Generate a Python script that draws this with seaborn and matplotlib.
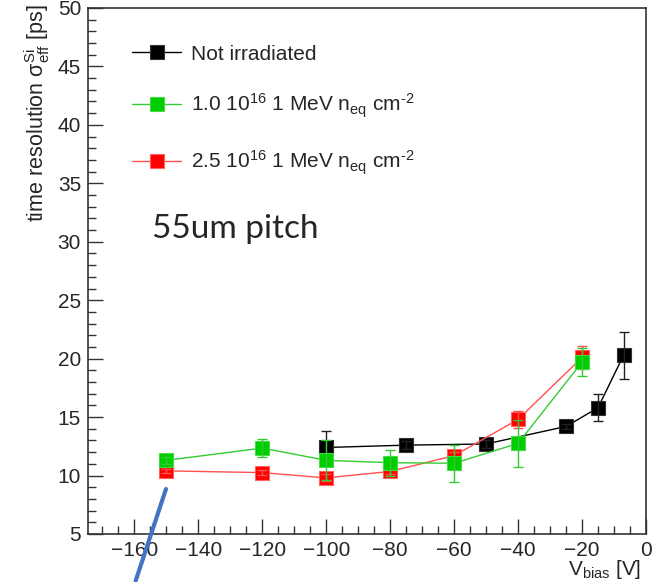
import matplotlib
matplotlib.use("Agg")
import matplotlib.pyplot as plt
from matplotlib.lines import Line2D
from matplotlib.ticker import MultipleLocator
import seaborn as sns
import pandas as pd

# bias voltage [V], time resolution [ps] and uncertainties
volt_black = [-100, -75, -50, -25, -15, -7]
res_black = [12.4, 12.6, 12.7, 14.2, 15.8, 20.3]
err_black = [1.4, 0.35, 0.35, 0.2, 1.15, 2.0]

volt_green = [-150, -120, -100, -80, -60, -40, -20]
res_green = [11.3, 12.35, 11.3, 11.1, 11.05, 12.75, 19.7]
err_green = [0.3, 0.75, 1.7, 1.1, 1.6, 2.0, 1.2]

volt_red = [-150, -120, -100, -80, -60, -40, -20]
res_red = [10.4, 10.25, 9.8, 10.35, 11.7, 14.8, 20.1]
err_red = [0.2, 0.2, 0.3, 0.2, 0.3, 0.7, 1.0]

labels = [
    "Not irradiated",
    r"1.0 10$^{16}$ 1 MeV n$_{\rm eq}$ cm$^{\text{-2}}$",
    r"2.5 10$^{16}$ 1 MeV n$_{\rm eq}$ cm$^{\text{-2}}$",
]

sns.set_style("ticks")
plt.rcParams["font.family"] = ["Liberation Sans", "DejaVu Sans"]
plt.rcParams["mathtext.fontset"] = "custom"
plt.rcParams["mathtext.rm"] = "Liberation Sans"
plt.rcParams["mathtext.it"] = "Liberation Sans:italic"

fig = plt.figure(figsize=(6.61, 5.82), dpi=100)
ax = fig.add_axes([0.1331, 0.0825, 0.8442, 0.9038])

series = [
    (volt_black, res_black, err_black, "black", "black", "#333333", labels[0]),
    (volt_red, res_red, err_red, "#ff0000", "#ff5050", "#ff6060", labels[2]),
    (volt_green, res_green, err_green, "#00cc00", "#33cc33", "#44dd44", labels[1]),
]

handles = {}
for x, y, e, mc, lc, ec, lab in series:
    df = pd.DataFrame({"V": x, "res": y})
    sns.lineplot(data=df, x="V", y="res", ax=ax, color=lc, linewidth=1.0,
                 marker="s", markersize=10, markerfacecolor=mc,
                 markeredgecolor=ec, markeredgewidth=0.8, legend=False,
                 sort=False)
    ax.errorbar(x, y, yerr=e, fmt="none", ecolor=lc if mc != "black" else "#222222",
                elinewidth=1.0, capsize=3.5, capthick=1.0)
    handles[lab] = Line2D([], [], color=lc, linewidth=1.0, marker="s",
                          markersize=10, markerfacecolor=mc, markeredgecolor=ec,
                          markeredgewidth=0.8)

ax.set_xlim(-174.5, 0)
ax.set_ylim(5, 50)
ax.xaxis.set_major_locator(MultipleLocator(20))
ax.xaxis.set_minor_locator(MultipleLocator(5))
ax.yaxis.set_major_locator(MultipleLocator(5))
ax.yaxis.set_minor_locator(MultipleLocator(1))
ax.tick_params(which="major", direction="in", length=11, width=1.0,
               labelsize=15, pad=5, color="#333333")
ax.tick_params(which="minor", direction="in", length=5.5, width=1.0,
               color="#333333")
for s in ax.spines.values():
    s.set_linewidth(1.2)
    s.set_color("#333333")

ax.set_xticklabels([f"\u2212{abs(int(v))}" if v < 0 else f"{int(v)}"
                    for v in ax.get_xticks()])

ax.set_ylabel(r"time resolution σ$^{\rm Si}_{\rm eff}$ [ps]", fontsize=15.5,
              loc="top")
ax.yaxis.set_label_coords(-0.064, 1.008)
ax.set_xlabel(r"V$_{\rm bias}$ [V]", fontsize=15, loc="right")
ax.xaxis.set_label_coords(0.992, -0.046)

ax.legend([handles[l] for l in labels], labels, loc="upper left",
          bbox_to_anchor=(0.064, 0.946), frameon=False, fontsize=15,
          handlelength=2.35, handletextpad=0.48, labelspacing=1.35,
          borderaxespad=0.0)

ax.text(0.114, 0.5627, "55um pitch", transform=ax.transAxes, fontsize=24,
        family=["Lato", "DejaVu Sans"], va="baseline", ha="left")

fig.add_artist(Line2D([0.2053, 0.2511], [0.0023, 0.1598], color="#4472c4",
                      linewidth=3.0, transform=fig.transFigure))

fig.savefig("out.png", dpi=100)
